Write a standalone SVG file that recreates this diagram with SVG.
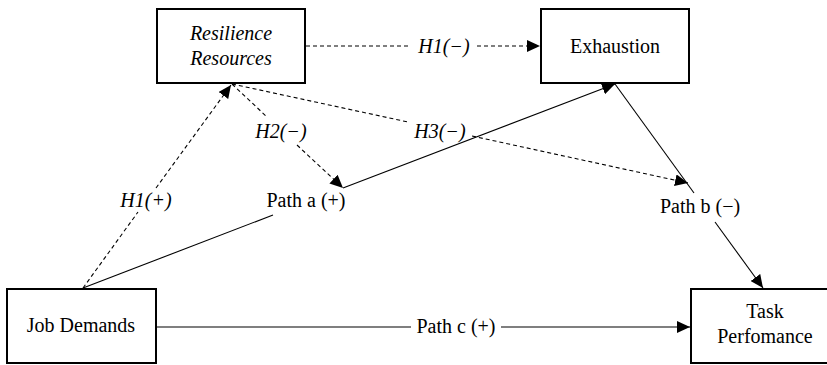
<svg xmlns="http://www.w3.org/2000/svg" width="827" height="365" viewBox="0 0 827 365">
<defs>
<style>
.box{fill:#fff;stroke:#000;stroke-width:2}
.t{font-family:"Liberation Serif","Times New Roman",serif;font-size:20px;fill:#000;text-anchor:middle}
.i{font-style:italic}
.s{stroke:#000;stroke-width:1.1;fill:none}
.d{stroke:#000;stroke-width:1.1;fill:none;stroke-dasharray:4 3}
</style>
<marker id="ah" viewBox="0 0 13 12" refX="13" refY="6" markerWidth="13" markerHeight="12" markerUnits="userSpaceOnUse" orient="auto">
<path d="M0,0 L13,6 L0,12 z" fill="#000"/>
</marker>
</defs>
<rect width="827" height="365" fill="#fff"/>
<g id="connectors">
<!-- H1(-) -->
<line class="d" x1="306" y1="46" x2="411" y2="46"/>
<line class="d" x1="477" y1="46" x2="540" y2="46" marker-end="url(#ah)"/>
<text class="t i" x="444" y="53">H1(−)</text>
<!-- H1(+) -->
<line class="d" x1="83" y1="288" x2="138" y2="212"/>
<line class="d" x1="156" y1="188" x2="231" y2="85" marker-end="url(#ah)"/>
<text class="t i" x="146" y="207">H1(+)</text>
<!-- H2(-) -->
<line class="d" x1="232" y1="84" x2="267" y2="117"/>
<line class="d" x1="297" y1="145" x2="343" y2="188" marker-end="url(#ah)"/>
<text class="t i" x="281" y="138">H2(−)</text>
<!-- H3(-) -->
<line class="d" x1="232" y1="84" x2="408" y2="122"/>
<line class="d" x1="472" y1="136" x2="688" y2="183" marker-end="url(#ah)"/>
<text class="t i" x="440" y="138">H3(−)</text>
<!-- Path a -->
<line class="s" x1="83" y1="288" x2="273" y2="215"/>
<line class="s" x1="343" y1="188" x2="615" y2="84" marker-end="url(#ah)"/>
<text class="t" x="306" y="207">Path a (+)</text>
<!-- Path b -->
<line class="s" x1="615" y1="84" x2="694" y2="193"/>
<line class="s" x1="715" y1="222" x2="763" y2="288" marker-end="url(#ah)"/>
<text class="t" x="700" y="213">Path b (−)</text>
<!-- Path c -->
<line class="s" x1="157" y1="327" x2="411" y2="327"/>
<line class="s" x1="501" y1="327" x2="690" y2="327" marker-end="url(#ah)"/>
<text class="t" x="456" y="333">Path c (+)</text>
</g>
<g id="resilience">
<rect class="box" x="157" y="9" width="148" height="74"/>
<text class="t i" x="231" y="40">Resilience</text>
<text class="t i" x="231" y="65">Resources</text>
</g>
<g id="exhaustion">
<rect class="box" x="541" y="9" width="148" height="74"/>
<text class="t" x="615" y="53">Exhaustion</text>
</g>
<g id="job-demands">
<rect class="box" x="7" y="289" width="149" height="74"/>
<text class="t" x="81" y="332">Job Demands</text>
</g>
<g id="task-performance">
<rect class="box" x="691" y="289" width="148" height="74"/>
<text class="t" x="765" y="318">Task</text>
<text class="t" x="765" y="343">Perfomance</text>
</g>
</svg>
